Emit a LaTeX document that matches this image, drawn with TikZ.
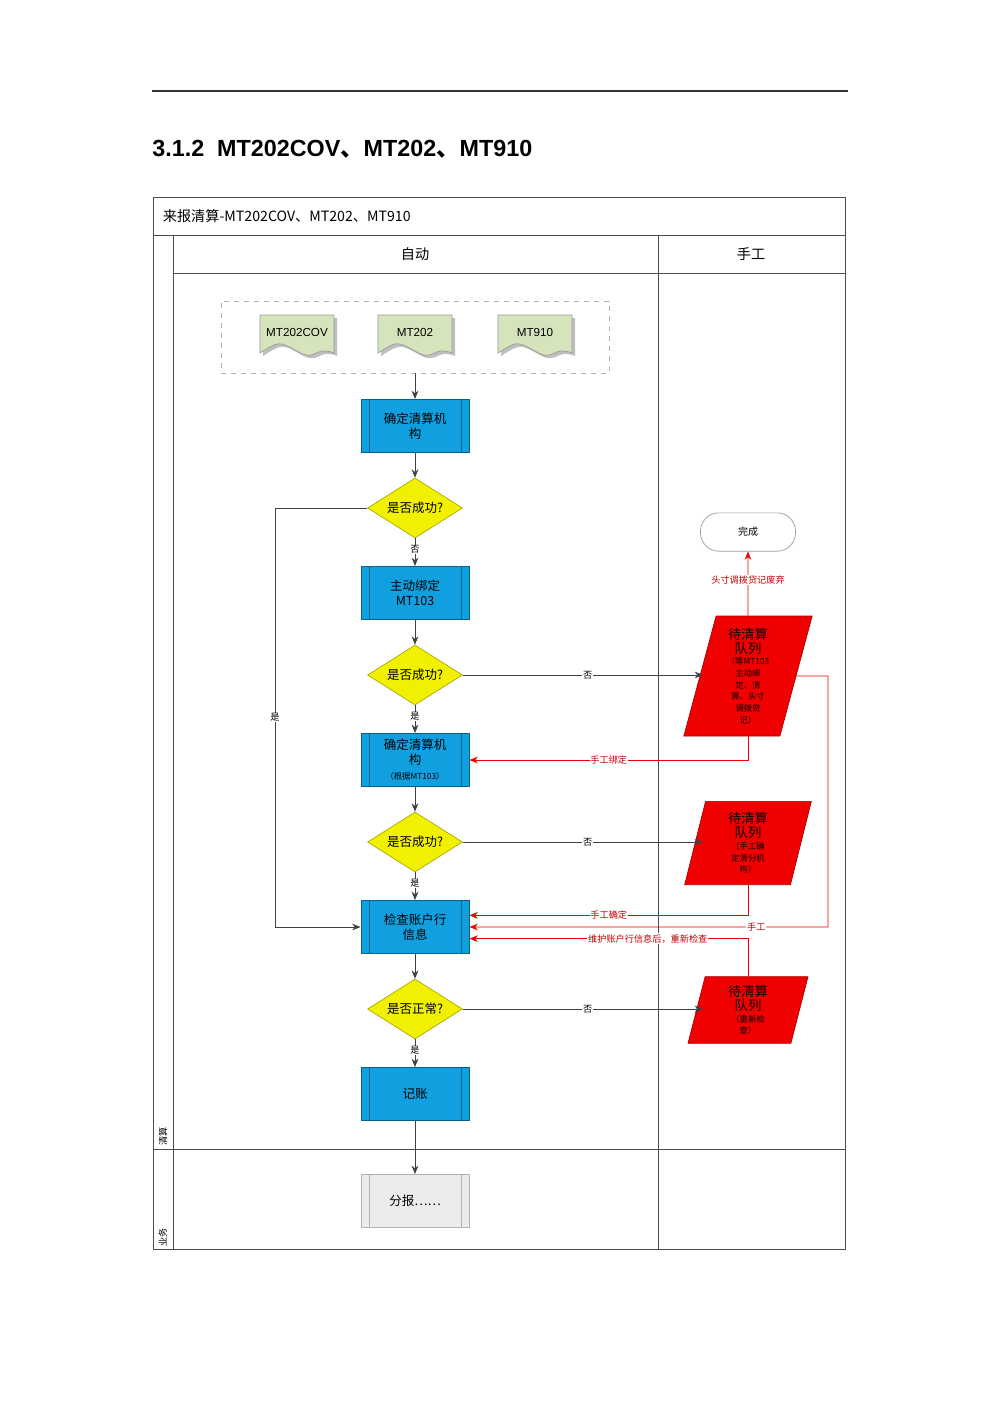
\documentclass[tikz,border=0pt]{standalone}
\usepackage{fontspec}
\setmainfont{Liberation Sans}
\newfontfamily\cjk{Noto Sans CJK SC}
\usetikzlibrary{shapes.geometric,arrows.meta}
\definecolor{procblue}{RGB}{16,160,224}
\definecolor{decyellow}{RGB}{240,240,0}
\definecolor{docgreen}{RGB}{214,228,188}
\definecolor{qred}{RGB}{240,0,0}
\tikzset{
  proc/.style={draw=procblue!60!black,fill=procblue,minimum width=65pt,minimum height=32pt,
    align=center,font=\cjk\fontsize{7.5}{9}\selectfont,inner sep=1pt,
    path picture={\draw[procblue!60!black]
      ([xshift=5pt]path picture bounding box.north west)--([xshift=5pt]path picture bounding box.south west)
      ([xshift=-5pt]path picture bounding box.north east)--([xshift=-5pt]path picture bounding box.south east);}},
  dec/.style={diamond,draw=decyellow!70!black,fill=decyellow,aspect=1.6,minimum width=57pt,
    minimum height=36pt,inner sep=0pt,font=\cjk\fontsize{7.5}{9}\selectfont},
  queue/.style={trapezium,trapezium left angle=72,trapezium right angle=108,trapezium stretches body,
    draw=qred!70!black,fill=qred,align=center,inner sep=1pt,font=\cjk\fontsize{5}{7}\selectfont},
  qhead/.style={font=\cjk\fontsize{8}{9}\selectfont},
  lbl/.style={fill=white,inner sep=0.5pt,font=\cjk\fontsize{5.5}{6}\selectfont},
  rlbl/.style={lbl,text=qred!80!black},
  arr/.style={draw=black!75,-{Stealth[length=5pt,width=4pt]}},
  rarr/.style={draw=qred,-{Stealth[length=5pt,width=4pt]}},
}
\newcommand\qhd{\fontsize{8}{9}\selectfont}
\begin{document}
\begin{tikzpicture}[x=0.6pt,y=-0.6pt]
\useasboundingbox (0,0) rectangle (1000,1415);
% page header
\draw[black!80,line width=0.8pt] (152,91) -- (848,91);
\node[anchor=west,font=\bfseries\fontsize{14}{16}\selectfont,inner sep=0pt] (title) at (152,149)
  {3.1.2\ \ MT202COV{\cjk 、}MT202{\cjk 、}MT910};
% pool and lanes
\draw[black!70] (153,197) rectangle (845,1249);
\draw[black!70] (153,235) -- (845,235);
\draw[black!70] (173,273) -- (845,273);
\draw[black!70] (173,235) -- (173,1249);
\draw[black!70] (658,235) -- (658,1249);
\draw[black!70] (153,1149) -- (845,1149);
\node[anchor=west,font=\cjk\fontsize{8.5}{10}\selectfont] (pool) at (157,216) {来报清算-MT202COV、MT202、MT910};
\node[font=\cjk\fontsize{8.5}{10}\selectfont] (laneA) at (415,254) {自动};
\node[font=\cjk\fontsize{8.5}{10}\selectfont] (laneB) at (751,254) {手工};
\node[rotate=90,font=\cjk\fontsize{5.5}{6}\selectfont] (rowA) at (163,1136) {清算};
\node[rotate=90,font=\cjk\fontsize{5.5}{6}\selectfont] (rowB) at (163,1237) {业务};
% incoming messages
\node[draw=black!30,dashed,minimum width=233pt,minimum height=43pt] (msgs) at (415,337) {};
\foreach \x/\t in {297/MT202COV,415/MT202,535/MT910}{
  \fill[black!25] (263,318) ++(\x-297,0) -- ++(74,0) -- ++(0,38)
    .. controls +(-20,-8) and +(20,12) .. ++(-37,-2) .. controls +(-18,-10) .. ++(-37,2) -- cycle;
  \draw[black!40,fill=docgreen] (260,315) ++(\x-297,0) -- ++(74,0) -- ++(0,38)
    .. controls +(-20,-8) and +(20,12) .. ++(-37,-2) .. controls +(-18,-10) .. ++(-37,2) -- cycle;
  \node[font=\fontsize{7}{8}\selectfont] (\t) at (\x,332) {\t};
}
% main flow
\node[proc] (org1) at (415,426) {确定清算机\\构};
\node[dec] (ok1) at (415,508) {是否成功?};
\node[proc] (bind) at (415,593) {主动绑定\\MT103};
\node[dec] (ok2) at (415,675) {是否成功?};
\node[proc] (org2) at (415,760) {确定清算机\\构\\{\fontsize{5}{6}\selectfont（根据MT103）}};
\node[dec] (ok3) at (415,842) {是否成功?};
\node[proc] (acct) at (415,927) {检查账户行\\信息};
\node[dec] (ok4) at (415,1009) {是否正常?};
\node[proc] (post) at (415,1094) {记账};
\node[proc,fill=black!8,draw=black!30,
  path picture={\draw[black!30]
    ([xshift=5pt]path picture bounding box.north west)--([xshift=5pt]path picture bounding box.south west)
    ([xshift=-5pt]path picture bounding box.north east)--([xshift=-5pt]path picture bounding box.south east);}]
  (dist) at (415,1201) {分报……};
% manual lane
\node[draw=black!40,fill=white,rounded corners=11pt,minimum width=57pt,minimum height=23pt,
  font=\cjk\fontsize{6}{7}\selectfont] (done) at (748,532) {完成};
\node[queue,minimum height=72pt,minimum width=77pt] (q1) at (748,676)
  {{\qhd 待清算}\\{\qhd 队列}\\（等MT103\\主动绑\\定、清\\算、头寸\\调拨贷\\记）};
\node[queue,minimum height=50pt,minimum width=76pt] (q2) at (748,843)
  {{\qhd 待清算}\\{\qhd 队列}\\（手工确\\定清分机\\构）};
\node[queue,minimum height=40pt,minimum width=72pt] (q3) at (748,1010)
  {{\qhd 待清算}\\{\qhd 队列}\\（重新检\\查）};
% connectors
\draw[arr] (msgs) -- (org1);
\draw[arr] (org1) -- (ok1);
\draw[arr] (ok1) -- node[lbl,pos=0.4]{否} (bind);
\draw[arr] (bind) -- (ok2);
\draw[arr] (ok2) -- node[lbl,pos=0.4]{是} (org2);
\draw[arr] (org2) -- (ok3);
\draw[arr] (ok3) -- node[lbl,pos=0.4]{是} (acct);
\draw[arr] (acct) -- (ok4);
\draw[arr] (ok4) -- node[lbl,pos=0.4]{是} (post);
\draw[arr] (post) -- (dist);
\draw[arr] (ok1.west) -| node[lbl,pos=0.75]{是} (275,927) -- (acct.west);
\draw[arr] (ok2.east) -- node[lbl,pos=0.52]{否} (703,675);
\draw[arr] (ok3.east) -- node[lbl,pos=0.52]{否} (703,842);
\draw[arr] (ok4.east) -- node[lbl,pos=0.52]{否} (703,1009);
\draw[rarr] (q1.north) -- node[rlbl,pos=0.55]{头寸调拨贷记废弃} (done);
\draw[rarr] (q1.south) |- node[rlbl,pos=0.75]{手工绑定} (org2.east);
\draw[rarr] (q2.south) |- node[rlbl,pos=0.75]{手工确定} ([yshift=7pt]acct.east);
\draw[rarr] (q1.east) -- (828,676) |- node[rlbl,pos=0.6]{手工} (acct.east);
\draw[rarr] (q3.north) |- node[rlbl,pos=0.68]{维护账户行信息后，重新检查} ([yshift=-7pt]acct.east);
\end{tikzpicture}
\end{document}
